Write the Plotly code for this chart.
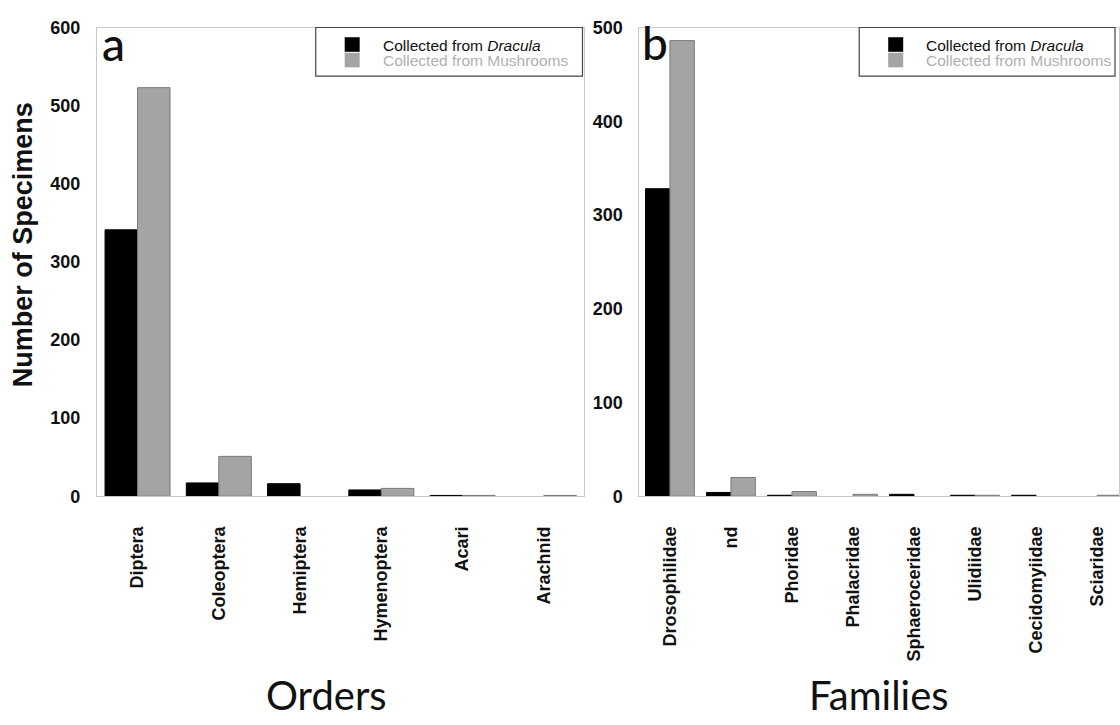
import plotly.graph_objects as go

# Specimen counts by order (panel a) and by family (panel b)
orders = ["Diptera", "Coleoptera", "Hemiptera", "Hymenoptera", "Acari", "Arachnid"]
orders_dracula = [341, 17, 16, 8, 1, 0]
orders_mushrooms = [523, 51, 0, 10, 1, 1]

families = ["Drosophilidae", "nd", "Phoridae", "Phalacridae", "Sphaeroceridae",
            "Ulidiidae", "Cecidomyiidae", "Sciaridae"]
families_dracula = [328, 4, 1, 0, 2, 1, 1, 0]
families_mushrooms = [486, 20, 5, 2, 0, 1, 0, 1]

W, H = 1120, 725
BLACK = "#000000"
GREY = "#a4a4a4"
GREY_EDGE = "#7a7a7a"
FRAME = "#c9c9c9"
SANS = "Arial, Liberation Sans, Helvetica, sans-serif"
HUMANIST = "Lato, Open Sans, sans-serif"


def px(x):
    return x / W


def py(y):
    return 1 - y / H


def edge_widths(values):
    # empty categories get no outline so nothing is drawn on the baseline
    return [1 if v > 0 else 0 for v in values]


fig = go.Figure()

for cats, dra, mus, xa, ya in [
    (orders, orders_dracula, orders_mushrooms, "x", "y"),
    (families, families_dracula, families_mushrooms, "x2", "y2"),
]:
    fig.add_trace(go.Bar(x=cats, y=dra, xaxis=xa, yaxis=ya, showlegend=False,
                         marker=dict(color=BLACK,
                                     line=dict(color=BLACK, width=edge_widths(dra)))))
    fig.add_trace(go.Bar(x=cats, y=mus, xaxis=xa, yaxis=ya, showlegend=False,
                         marker=dict(color=GREY,
                                     line=dict(color=GREY_EDGE, width=edge_widths(mus)))))

ydom = [py(500), py(18)]
axis_common = dict(showline=True, mirror=True, linecolor=FRAME, linewidth=1,
                   showgrid=False, zeroline=False)
tick_font = dict(family=SANS, size=18, color="#111111", weight="bold")

fig.update_layout(
    width=W, height=H,
    margin=dict(l=0, r=0, t=0, b=0),
    paper_bgcolor="white", plot_bgcolor="white",
    barmode="group", bargap=0.2, bargroupgap=0,
    showlegend=False,
    xaxis=dict(domain=[px(97), px(585)], anchor="y", type="category",
               range=[-0.5, 5.5], tickangle=-90, ticks="", tickfont=tick_font,
               ticklabelstandoff=22, **axis_common),
    yaxis=dict(domain=ydom, anchor="x", range=[0, 600], tickvals=[0, 100, 200, 300, 400, 500, 600],
               ticks="", tickfont=tick_font, ticklabelstandoff=12, **axis_common),
    xaxis2=dict(domain=[px(640), 1.0], anchor="y2", type="category",
                range=[-0.5, 7.36], tickangle=-90, ticks="", tickfont=tick_font,
                ticklabelstandoff=22, **axis_common),
    yaxis2=dict(domain=ydom, anchor="x2", range=[0, 500], tickvals=[0, 100, 200, 300, 400, 500],
                ticks="", tickfont=tick_font, ticklabelstandoff=12, **axis_common),
)

annotations = [
    dict(text="<b>Number of Specimens</b>", x=px(23), y=py(241), textangle=-90,
         font=dict(family=SANS, size=27, color="#111111")),
    dict(text="Orders", x=px(327), y=py(704), font=dict(family=HUMANIST, size=40, color="#111111")),
    dict(text="Families", x=px(880), y=py(704), font=dict(family=HUMANIST, size=40, color="#111111")),
    dict(text="a", x=px(100), y=py(34), xanchor="left",
         font=dict(family=HUMANIST, size=46, color="#111111", weight=500)),
    dict(text="b", x=px(641), y=py(33), xanchor="left",
         font=dict(family=HUMANIST, size=46, color="#111111", weight=500)),
]

shapes = []
# Legend boxes, one per panel
for left, right in [(316, 583), (860, 1116)]:
    shapes.append(dict(type="rect", xref="paper", yref="paper",
                       x0=px(left), x1=px(right), y0=py(68), y1=py(18),
                       fillcolor="white", line=dict(color="#444444", width=1.2)))
    sx = left + 29
    shapes.append(dict(type="rect", xref="paper", yref="paper",
                       x0=px(sx), x1=px(sx + 15), y0=py(43), y1=py(28),
                       fillcolor=BLACK, line=dict(width=0)))
    shapes.append(dict(type="rect", xref="paper", yref="paper",
                       x0=px(sx), x1=px(sx + 15), y0=py(59), y1=py(44),
                       fillcolor=GREY, line=dict(width=0)))
    annotations.append(dict(text="Collected from <i>Dracula</i>", x=px(sx + 36), y=py(36),
                            xanchor="left", font=dict(family=SANS, size=15.5, color="#111111")))
    annotations.append(dict(text="Collected from Mushrooms", x=px(sx + 36), y=py(52),
                            xanchor="left", font=dict(family=SANS, size=15.5, color="#b0b0b0")))

for a in annotations:
    a.setdefault("xref", "paper")
    a.setdefault("yref", "paper")
    a.setdefault("showarrow", False)
    a.setdefault("xanchor", "center")
    a.setdefault("yanchor", "middle")

fig.update_layout(annotations=annotations, shapes=shapes)

fig.write_html("out.html")
